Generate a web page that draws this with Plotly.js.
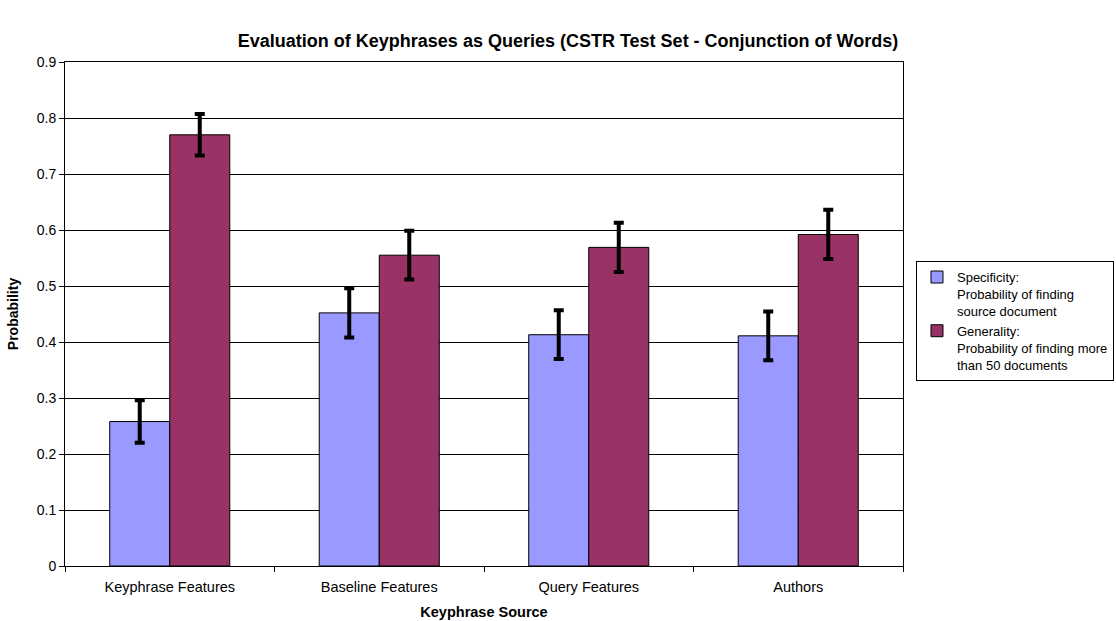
<!DOCTYPE html>
<html><head><meta charset="utf-8">
<script src="https://cdn.plot.ly/plotly-3.0.1.min.js"></script>
<style>body{margin:0;background:#fff}#c{width:1116px;height:621px}</style>
</head><body><div id="c"></div>
<script>
const categories = ["Keyphrase Features", "Baseline Features", "Query Features", "Authors"];
const specificity = [0.258, 0.452, 0.413, 0.411];
const specificityErr = [0.038, 0.044, 0.0435, 0.0435];
const generality = [0.770, 0.555, 0.569, 0.592];
const generalityErr = [0.037, 0.0435, 0.044, 0.044];
const seriesNames = ["Specificity:<br>Probability of finding<br>source document",
                     "Generality:<br>Probability of finding more<br>than 50 documents"];
const yTicks = [0, 0.1, 0.2, 0.3, 0.4, 0.5, 0.6, 0.7, 0.8, 0.9];

const font = "Liberation Sans, Arial, sans-serif";
const errStyle = {type: "data", visible: true, color: "#000", thickness: 4, width: 5};
const traces = [
  {type: "bar", x: categories, y: specificity, name: seriesNames[0],
   marker: {color: "#9999ff", line: {color: "#000", width: 1}},
   error_y: Object.assign({array: specificityErr}, errStyle)},
  {type: "bar", x: categories, y: generality, name: seriesNames[1],
   marker: {color: "#993366", line: {color: "#000", width: 1}},
   error_y: Object.assign({array: generalityErr}, errStyle)}
];
const layout = {
  width: 1116, height: 621,
  margin: {l: 65, r: 213, t: 62, b: 55, autoexpand: false},
  paper_bgcolor: "#fff", plot_bgcolor: "#fff",
  font: {family: font, size: 14, color: "#000"},
  title: {text: "<b>Evaluation of Keyphrases as Queries (CSTR Test Set - Conjunction of Words)</b>",
          font: {family: font, size: 18, color: "#000"},
          xref: "container", x: 0.509, y: 0.934, yanchor: "middle"},
  barmode: "group", bargap: 0.427, bargroupgap: 0,
  xaxis: {title: {text: "<b>Keyphrase Source</b>", font: {size: 14.5}, standoff: 12},
          showline: true, linecolor: "#000", linewidth: 1, mirror: true,
          ticks: "outside", ticklen: 5, tickcolor: "#000", tickson: "boundaries",
          ticklabelstandoff: 8,
          tickfont: {size: 14.5}, showgrid: false, automargin: false},
  yaxis: {title: {text: "<b>Probability</b>", font: {size: 14}, standoff: 14},
          range: [0, 0.9], tickvals: yTicks, ticktext: yTicks.map(String),
          showline: true, linecolor: "#000", linewidth: 1, mirror: true,
          ticks: "outside", ticklen: 5, tickcolor: "#000",
          showgrid: true, gridcolor: "#000", gridwidth: 1, zeroline: false,
          tickfont: {size: 14}, automargin: false},
  showlegend: true,
  legend: {x: 1.0155, xanchor: "left", y: 0.605, yanchor: "top", valign: "top",
           bordercolor: "#000", borderwidth: 1, bgcolor: "#fff",
           font: {size: 13}, tracegroupgap: 4, itemwidth: 30}
};
Plotly.newPlot("c", traces, layout, {displayModeBar: false, staticPlot: true});
</script></body></html>
